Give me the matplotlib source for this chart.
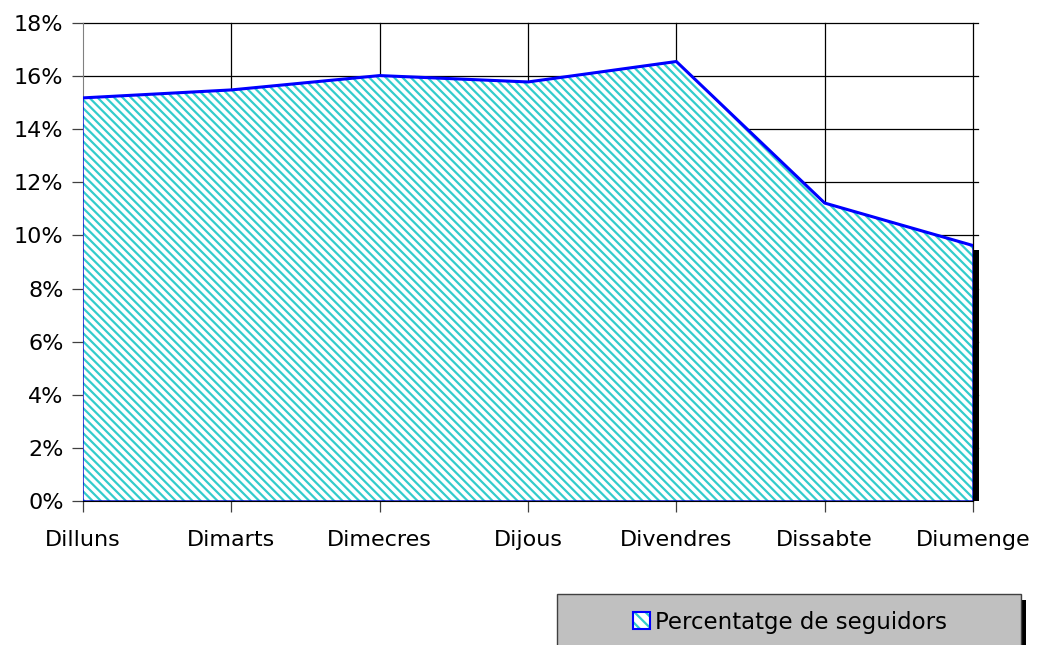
import numpy as np
import matplotlib
matplotlib.use('Agg')
import matplotlib.pyplot as plt
from matplotlib.patches import Rectangle, Patch
from matplotlib.legend_handler import HandlerTuple
from matplotlib.ticker import FuncFormatter

plt.rcParams['font.family'] = ['DejaVu Sans']
plt.rcParams['hatch.linewidth'] = 1.6

# percentatge de seguidors per dia
dies = ['Dilluns', 'Dimarts', 'Dimecres', 'Dijous', 'Divendres', 'Dissabte', 'Diumenge']
percent = [15.18, 15.48, 16.02, 15.78, 16.55, 11.22, 9.62]
yticks = [0, 2, 4, 6, 8, 10, 12, 14, 16, 18]
serie = 'Percentatge de seguidors'

HATCH = '\\\\\\\\'
CYAN = '#33CCCC'
BLUE = '#0000FF'

fig = plt.figure(figsize=(10.38, 6.45), dpi=100)
ax = fig.add_axes([83/1038, 1 - 501/645, 890/1038, 478/645])

x = np.arange(len(dies))
ax.set_xlim(0, len(dies) - 1)
ax.set_ylim(yticks[0], yticks[-1])

# grid lines (drawn by hand so they run a bit past the right edge)
for yv in yticks[1:]:
    ax.plot([0, 1.0056], [yv, yv], color='black', lw=0.9, zorder=1,
            transform=ax.get_yaxis_transform(), clip_on=False)
for xv in x[1:]:
    ax.axvline(xv, color='black', lw=0.9, zorder=1, clip_on=False)

# shadow on the right side of the area
dx = 6 * (x[-1] - x[0]) / 890
dy = 4 * (yticks[-1] - yticks[0]) / 478
ax.add_patch(Rectangle((x[-1], 0), dx, percent[-1] - dy, facecolor='black',
                       edgecolor='none', clip_on=False, zorder=2))

ax.fill_between(x, 0, percent, facecolor='white', hatch=HATCH,
                edgecolor=CYAN, lw=0, zorder=3)
ax.fill_between(x, 0, percent, facecolor='none', edgecolor='#0000CC', lw=1.0, zorder=4)
ax.plot(x, percent, color=BLUE, lw=2.2, zorder=4, solid_capstyle='butt')

for s in ['top', 'right']:
    ax.spines[s].set_visible(False)
ax.spines['left'].set_color('#808080')
ax.spines['bottom'].set_color('black')
ax.spines['bottom'].set_zorder(5)

ax.set_xticks(x)
ax.set_xticklabels(dies, fontsize=16)
ax.set_yticks(yticks)
ax.yaxis.set_major_formatter(FuncFormatter(lambda v, p: '%d%%' % v))
ax.tick_params(axis='y', labelsize=16, length=8, width=0.9, color='#404040', pad=6)
ax.tick_params(axis='x', length=8, width=0.9, color='#404040', pad=13)

# legend box with shadow
fig.patches.append(Rectangle((1021/1038, 0), 5/1038, 1 - 600/645, transform=fig.transFigure,
                             facecolor='black', edgecolor='none', zorder=0))
fig.patches.append(Rectangle((557/1038, -0.01), 464/1038, 0.01 + 1 - 594/645,
                             transform=fig.transFigure, facecolor='#C0C0C0',
                             edgecolor='#404040', lw=1.0, zorder=1))
h_fill = Patch(facecolor='white', hatch='\\\\\\', edgecolor=CYAN, lw=0)
h_edge = Patch(facecolor='none', edgecolor=BLUE, lw=1.5)
fig.legend([(h_fill, h_edge)], [serie], loc='center', bbox_to_anchor=(790/1038, 1 - 622/645),
           frameon=False, fontsize=16.5, handlelength=0.75, handleheight=0.75,
           handletextpad=0.25, borderpad=0, handler_map={tuple: HandlerTuple(ndivide=1)})

fig.savefig('out.png', dpi=100)
